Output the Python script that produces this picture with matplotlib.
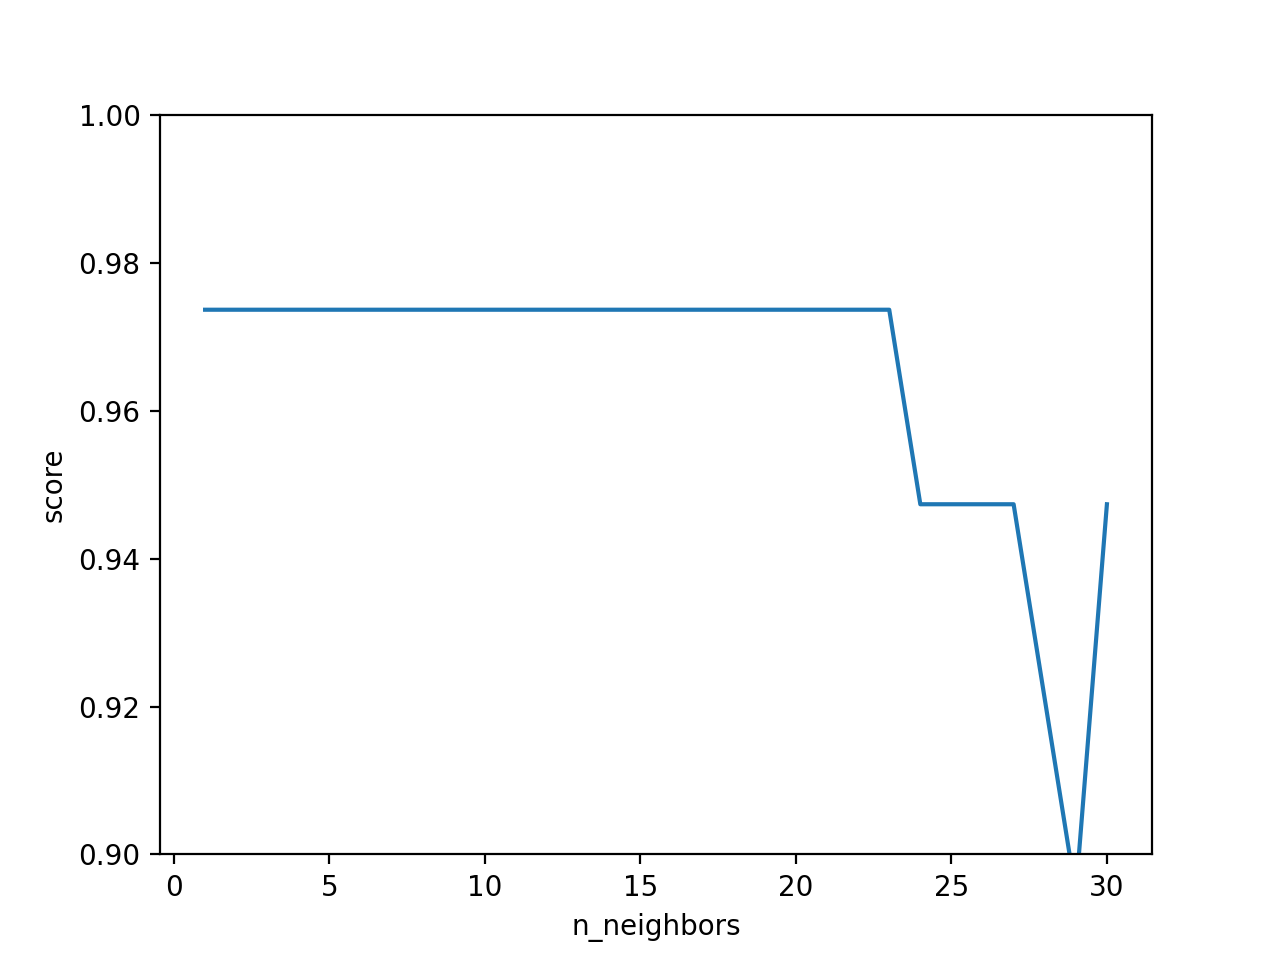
import numpy as np
import matplotlib
matplotlib.use("Agg")
import matplotlib.pyplot as plt

n_neighbors = list(range(1, 31))
scores = [37 / 38] * 23 + [36 / 38] * 4 + [35 / 38, 34 / 38, 36 / 38]

fig = plt.figure(figsize=(6.4, 4.8), dpi=200)
plt.plot(n_neighbors, scores)
plt.ylim(0.9, 1.0)
plt.xlabel("n_neighbors")
plt.ylabel("score")
plt.savefig("out.png", dpi=200)
